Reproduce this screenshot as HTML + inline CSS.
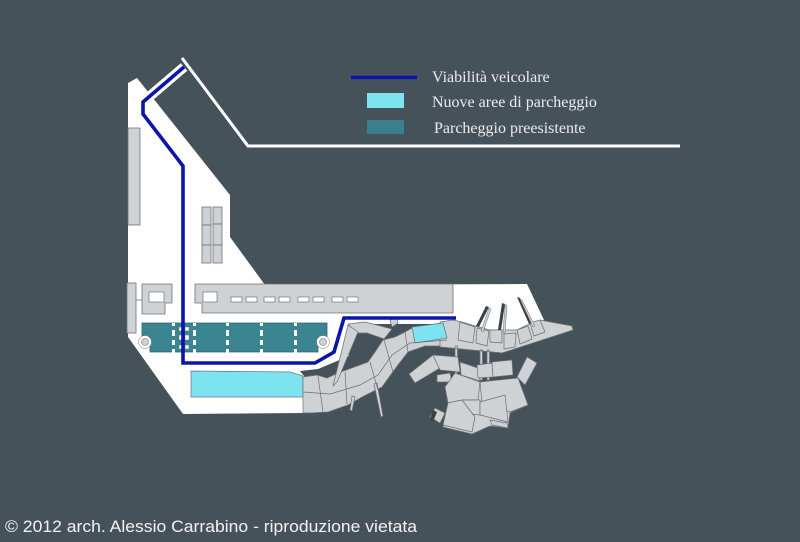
<!DOCTYPE html>
<html><head><meta charset="utf-8"><style>
html,body{margin:0;padding:0;background:#46525a;}
svg{display:block;}
</style></head><body>
<svg width="800" height="542" viewBox="0 0 800 542" xmlns="http://www.w3.org/2000/svg">
<rect width="800" height="542" fill="#46525a"/>

<!-- white coastal road line -->
<polyline points="182,58 248,146 680,146" fill="none" stroke="#ffffff" stroke-width="3"/>

<!-- land -->
<polygon points="128,83 137,78 230,195 230,237 265,285 527,284 544,320 502,341 460,324 350,324 349,356 318,369 300,371 304,376 307,413 183,414 128,337" fill="#ffffff"/>

<!-- white outline of road -->
<polyline points="184,67 143,102 143,114 183,166 183,363 315,363 334,352 344,318 456,318" fill="none" stroke="#ffffff" stroke-width="10" stroke-linejoin="miter"/>

<g fill="#cfd2d5" stroke="#6f7478" stroke-width="0.8">
<!-- left bar -->
<rect x="128" y="128" width="12" height="97"/>
<!-- small boxes -->
<rect x="202" y="207" width="9" height="18"/><rect x="202" y="225" width="9" height="20"/><rect x="202" y="245" width="9" height="18"/>
<rect x="213" y="207" width="9" height="17"/><rect x="213" y="224" width="9" height="21"/><rect x="213" y="245" width="9" height="18"/>
<!-- left structures row -->
<rect x="127" y="283" width="9" height="50"/>
<polygon points="142,284 172,284 172,303 165,303 165,314 142,314"/>
<!-- long building -->
<polygon points="195,284 453,284 453,313 202,313 202,303 195,303"/>
</g>
<line x1="136" y1="300" x2="142" y2="300" stroke="#6f7478" stroke-width="0.8"/>
<g fill="#ffffff" stroke="#6f7478" stroke-width="0.7">
<rect x="149" y="292" width="15" height="10"/>
<rect x="203" y="292" width="14" height="10"/>
<rect x="231" y="297" width="11" height="5"/><rect x="246" y="297" width="11" height="5"/>
<rect x="264" y="297" width="11" height="5"/><rect x="279" y="297" width="11" height="5"/>
<rect x="298" y="297" width="11" height="5"/><rect x="313" y="297" width="11" height="5"/>
<rect x="332" y="297" width="11" height="5"/><rect x="347" y="297" width="11" height="5"/>
</g>

<!-- teal existing parking -->
<polygon points="142,323 327,323 327,337 318,337 318,352 150,352 150,337 142,337" fill="#3b8491" stroke="#2d6470" stroke-width="0.8"/>
<g fill="#ffffff">
<rect x="172" y="323" width="3" height="3"/><rect x="172" y="330" width="3" height="6"/><rect x="172" y="340" width="3" height="5"/><rect x="172" y="349" width="3" height="4"/>
<rect x="193" y="323" width="3" height="3"/><rect x="193" y="330" width="3" height="6"/><rect x="193" y="340" width="3" height="5"/><rect x="193" y="349" width="3" height="4"/>
<rect x="226" y="323" width="3" height="3"/><rect x="226" y="330" width="3" height="6"/><rect x="226" y="340" width="3" height="5"/><rect x="226" y="349" width="3" height="4"/>
<rect x="260" y="323" width="3" height="3"/><rect x="260" y="330" width="3" height="6"/><rect x="260" y="340" width="3" height="5"/><rect x="260" y="349" width="3" height="4"/>
<rect x="294" y="323" width="3" height="3"/><rect x="294" y="330" width="3" height="6"/><rect x="294" y="340" width="3" height="5"/><rect x="294" y="349" width="3" height="4"/>
</g>
<g fill="#ffffff" stroke="#6f7478" stroke-width="0.5">
<rect x="179" y="327" width="4" height="4"/><rect x="185" y="327" width="4" height="4"/>
<rect x="179" y="335" width="4" height="5"/><rect x="185" y="335" width="4" height="5"/>
<rect x="179" y="345" width="4" height="4"/><rect x="185" y="345" width="4" height="4"/>
<circle cx="145" cy="342" r="6.5"/><circle cx="323" cy="342" r="6.5"/>
</g>
<circle cx="145" cy="342" r="3.5" fill="#cfd2d5" stroke="#6f7478" stroke-width="0.6"/>
<circle cx="323" cy="342" r="3.5" fill="#cfd2d5" stroke="#6f7478" stroke-width="0.6"/>

<!-- cyan new parking -->
<polygon points="191,371 290,372 303,376 303,397 191,397" fill="#7be4f0" stroke="#6f7478" stroke-width="0.7"/>

<!-- harbour structures -->
<g fill="#cfd2d5" stroke="#6a6f73" stroke-width="0.7" stroke-linejoin="round">
<!-- main band -->
<polygon points="303,377 317,375 327,378 338,373 368,362 375,352 383,340 395,337 405,332 412,328 447,322 458,346 448,346 425,346 408,352 398,365 392,373 382,387 362,397 348,405 328,412 310,413 303,413"/>
<!-- upper wedge piece -->
<polygon points="348,324 365,322 392,329 384,339 367,333 357,333"/>
<polygon points="348,325 358,332 337,382 333,386"/>
<polygon points="390,320 397,318 398,323 392,327"/>
<!-- spikes -->
<polygon points="352,396 355,397 352,411 350,410"/>
<polygon points="374,384 377,383 383,416 381,417"/>
<!-- pier strip -->
<polygon points="440,322 453,320 462,322 475,326 490,330 517,330 527,325 540,320 572,326 573,330 502,353 440,347"/>
<!-- pier blocks -->
<polygon points="460,322 475,327 473,343 458,340"/>
<polygon points="477,328 489,331 487,346 476,343"/>
<polygon points="490,330 502,330 502,343 490,342"/>
<polygon points="504,334 516,333 515,347 504,349"/>
<polygon points="517,330 528,326 532,339 520,344"/>
<polygon points="530,323 540,320 545,332 534,336"/>
<!-- pillars -->
<rect x="455" y="346" width="2.5" height="27"/>
<rect x="480" y="350" width="2.5" height="30"/>
<rect x="487" y="350" width="2.5" height="30"/>
<!-- cluster backing -->
<polygon points="445,386 480,382 518,378 528,405 510,413 508,428 490,426 472,434 443,427 448,403" />
<!-- cluster blocks -->
<polygon points="409,374 433,355 440,368 415,383"/>
<polygon points="433,355 458,357 460,372 440,370"/>
<polygon points="460,362 478,368 480,381 461,375"/>
<polygon points="477,365 492,363 493,377 478,378"/>
<polygon points="492,362 512,360 513,375 493,377"/>
<polygon points="517,377 527,357 537,363 525,385"/>
<polygon points="437,375 450,373 452,382 437,382"/>
<polygon points="445,387 455,373 480,382 478,400 462,400 448,403"/>
<polygon points="480,382 518,378 528,405 510,412 482,403"/>
<polygon points="462,400 480,400 480,415 462,413"/>
<polygon points="480,402 505,395 508,422 480,415"/>
<polygon points="448,403 462,400 475,417 472,432 443,425"/>
<polygon points="490,420 507,423 508,428 492,425"/>
<polygon points="430,417 435,408 445,413 440,423"/>
</g>
<!-- cyan small area on pier -->
<polygon points="412,327 443,323 447,338 415,343" fill="#7be4f0" stroke="#6a6f73" stroke-width="0.7"/>
<!-- band inner lines -->
<g fill="none" stroke="#6a6f73" stroke-width="0.7">
<polyline points="303,392 330,394 360,385 378,375 392,355 410,343 447,340"/>
<line x1="318" y1="376" x2="323" y2="412"/>
<line x1="345" y1="372" x2="347" y2="404"/>
<line x1="370" y1="362" x2="378" y2="390"/>
<line x1="384" y1="340" x2="393" y2="372"/>
<line x1="405" y1="332" x2="408" y2="352"/>
<line x1="440" y1="347" x2="502" y2="353"/>
</g>
<!-- dark pier fingers -->
<g fill="#3a4248">
<polygon points="486,306 489,307 479,327 476,326"/>
<polygon points="502,303 505,304 501,330 498,330"/>
<polygon points="517,297 520,298 532,323 529,324"/>
<polygon points="433,410 437,412 433,422 430,420"/>
</g>
<g fill="#cfd2d5" stroke="#6a6f73" stroke-width="0.5">
<polygon points="489,308 491,309 483,332 481,331"/>
<polygon points="505,305 507,305 505,333 503,333"/>
<polygon points="520,299 522,300 535,326 533,327"/>
</g>

<!-- blue road -->
<polyline points="184,67 143,102 143,114 183,166 183,363 315,363 334,352 344,318 456,318" fill="none" stroke="#0b15aa" stroke-width="3.6" stroke-linejoin="miter"/>

<!-- legend -->
<line x1="351" y1="77.5" x2="417" y2="77.5" stroke="#0b15aa" stroke-width="3.5"/>
<rect x="367" y="93" width="37" height="15" fill="#7be4f0"/>
<rect x="367" y="120" width="37" height="14" fill="#3a808c"/>
<g font-family="'Liberation Serif', serif" font-size="16" fill="#ececec">
<text x="432" y="82">Viabilità veicolare</text>
<text x="432" y="107">Nuove aree di parcheggio</text>
<text x="434" y="133">Parcheggio preesistente</text>
</g>

<!-- footer -->
<text x="5" y="532" font-family="'Liberation Sans', 'DejaVu Sans', sans-serif" font-size="16.5" fill="#f2f2f2" textLength="412" lengthAdjust="spacingAndGlyphs">© 2012 arch. Alessio Carrabino - riproduzione vietata</text>
</svg>
</body></html>
